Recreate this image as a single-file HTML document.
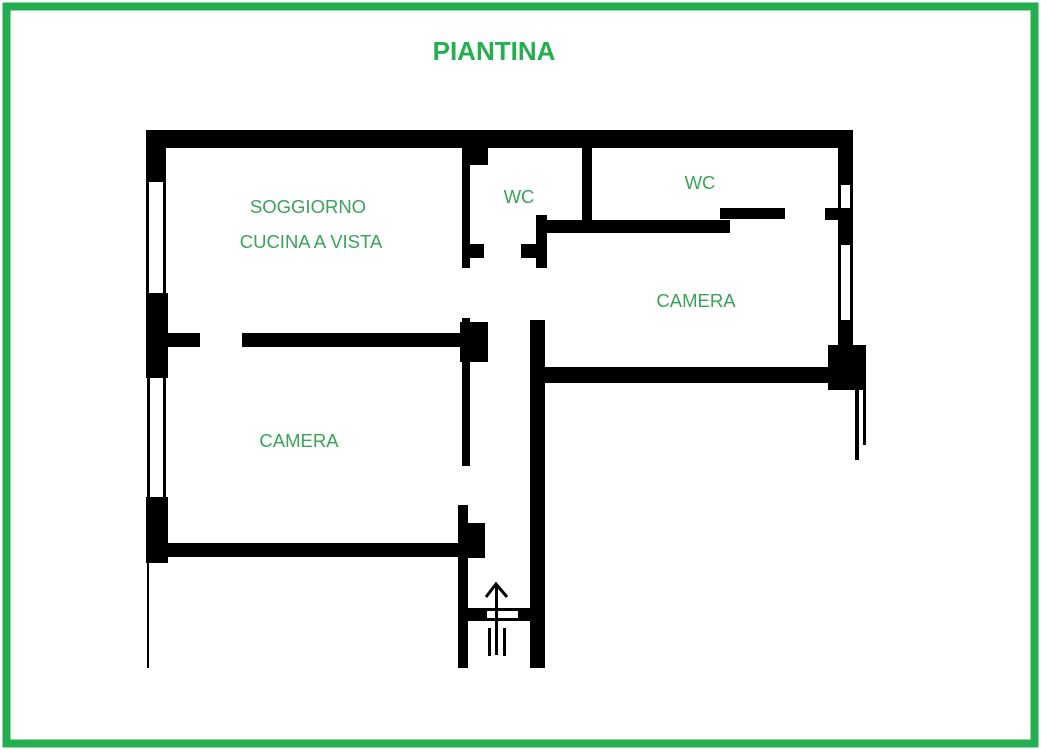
<!DOCTYPE html>
<html><head><meta charset="utf-8"><style>
html,body{margin:0;padding:0;background:#fff;}
svg{display:block;}
text{font-family:"Liberation Sans",Arial,sans-serif;}
</style></head><body>
<svg width="1041" height="750" viewBox="0 0 1041 750" xmlns="http://www.w3.org/2000/svg">
<rect x="0" y="0" width="1041" height="750" fill="#fff"/>
<rect x="6.5" y="6.5" width="1028" height="737" fill="none" stroke="#23ae4f" stroke-width="8"/>
<text x="494" y="60" text-anchor="middle" font-size="26" font-weight="bold" fill="#23ae4f">PIANTINA</text>
<g fill="#000">
<rect x="146" y="130" width="707" height="18"/>
<rect x="146" y="130" width="20" height="52"/>
<rect x="146" y="182" width="3" height="113"/>
<rect x="163" y="182" width="3" height="113"/>
<rect x="146" y="293" width="22" height="85"/>
<rect x="147" y="378" width="3" height="119"/>
<rect x="163" y="378" width="3" height="119"/>
<rect x="146" y="497" width="22" height="66"/>
<rect x="147" y="563" width="2" height="105"/>
<rect x="166" y="333" width="34" height="14"/>
<rect x="242" y="333" width="225" height="14"/>
<rect x="460" y="322" width="28" height="40"/>
<rect x="462" y="318" width="8" height="148"/>
<rect x="462" y="148" width="8" height="120"/>
<rect x="462" y="148" width="26" height="17"/>
<rect x="470" y="244" width="14" height="14"/>
<rect x="536" y="215" width="11" height="53"/>
<rect x="521" y="244" width="16" height="14"/>
<rect x="537" y="220" width="193" height="13"/>
<rect x="720" y="208" width="65" height="11"/>
<rect x="582" y="148" width="10" height="72"/>
<rect x="838" y="130" width="15" height="55"/>
<rect x="838" y="185" width="3" height="27"/>
<rect x="850" y="185" width="3" height="27"/>
<rect x="825" y="208" width="28" height="12"/>
<rect x="838" y="212" width="15" height="33"/>
<rect x="838" y="245" width="3" height="75"/>
<rect x="850" y="245" width="3" height="75"/>
<rect x="838" y="320" width="15" height="30"/>
<rect x="828" y="345" width="38" height="45"/>
<rect x="855" y="390" width="4" height="70" />
<rect x="863" y="390" width="3" height="55"/>
<rect x="530" y="367" width="330" height="16"/>
<rect x="530" y="320" width="15" height="348"/>
<rect x="458" y="505" width="10" height="163"/>
<rect x="458" y="523" width="27" height="35"/>
<rect x="160" y="543" width="305" height="14"/>
<rect x="462" y="608" width="78" height="13"/>
<rect x="487" y="611" width="31" height="7" fill="#fff"/>
<rect x="488" y="628" width="3" height="28"/>
<rect x="503" y="628" width="3" height="28"/>
<rect x="495" y="585" width="3" height="70"/>
</g>
<path d="M486 597 L496 584 L507 597" fill="none" stroke="#000" stroke-width="3"/>
<g fill="#3aa35a" font-size="18.5" text-anchor="middle">
<text x="308" y="213">SOGGIORNO</text>
<text x="311" y="248">CUCINA A VISTA</text>
<text x="519" y="203">WC</text>
<text x="700" y="189">WC</text>
<text x="696" y="307">CAMERA</text>
<text x="299" y="447">CAMERA</text>
</g>
</svg>
</body></html>
